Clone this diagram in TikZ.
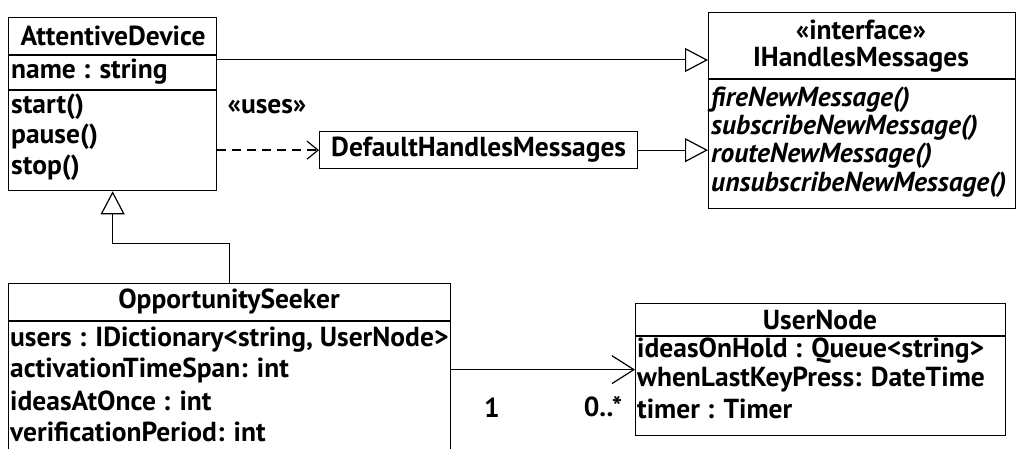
\documentclass[tikz,border=0pt]{standalone}
\usepackage{fontspec}
\setmainfont{PT Sans}
\usetikzlibrary{arrows.meta}
\begin{document}
\begin{tikzpicture}[x=1pt,y=-1pt,
  box/.style={draw, line width=1.3pt, anchor=north west, inner sep=0pt},
  sep/.style={line width=1.3pt},
  txt/.style={inner sep=0pt, font=\fontsize{27.5}{30}\selectfont\bfseries},
  lbl/.style={txt, anchor=west},
  ttl/.style={txt, anchor=center},
  op/.style={lbl, font=\fontsize{27.5}{30}\selectfont\bfseries\itshape},
  conn/.style={line width=1pt},
  gen/.style={conn, -{Triangle[open, length=23pt, width=24pt, line width=1.2pt]}},
  dep/.style={conn, line width=1.6pt, dash pattern=on 9pt off 6pt, -{Straight Barb[length=11pt, width=18pt, line width=1.2pt]}},
  nav/.style={conn, -{Straight Barb[length=22pt, width=28pt, line width=1.2pt]}}
]
\useasboundingbox (0,0) rectangle (1018,449);
\clip (0,0) rectangle (1018,449);

% AttentiveDevice
\node[box, minimum width=208pt, minimum height=173pt] (ad) at (8,17) {};
\draw[sep] (ad.west |- 0,55) -- (ad.east |- 0,55);
\draw[sep] (ad.west |- 0,90) -- (ad.east |- 0,90);
\node[ttl] (adname) at (113,36) {AttentiveDevice};
\node[lbl] (adattr) at (11,72) {name : string};
\node[lbl] (adstart) at (11,107) {start()};
\node[lbl] (adpause) at (11,137) {pause()};
\node[lbl] (adstop) at (11,168) {stop()};

% IHandlesMessages
\node[box, minimum width=307pt, minimum height=196pt] (ihm) at (708,12) {};
\draw[sep] (ihm.west |- 0,79) -- (ihm.east |- 0,79);
\node[ttl] (ihmstereo) at (861,30) {«interface»};
\node[ttl] (ihmname) at (861,60) {IHandlesMessages};
\node[op] (ihmfire) at (711,100) {fireNewMessage()};
\node[op] (ihmsub) at (711,128) {subscribeNewMessage()};
\node[op] (ihmroute) at (711,156) {routeNewMessage()};
\node[op] (ihmunsub) at (711,185) {unsubscribeNewMessage()};

% DefaultHandlesMessages
\node[box, minimum width=318pt, minimum height=37pt, txt] (dhm) at (319,131) {DefaultHandlesMessages};

% OpportunitySeeker
\node[box, minimum width=442pt, minimum height=200pt] (os) at (8,283) {};
\draw[sep] (os.west |- 0,321) -- (os.east |- 0,321);
\node[ttl] (osname) at (229,302) {OpportunitySeeker};
\node[lbl] (osusers) at (10,340) {users : IDictionary<string, UserNode>};
\node[lbl] (osspan) at (10,370) {activationTimeSpan: int};
\node[lbl] (osonce) at (10,401) {ideasAtOnce : int};
\node[lbl] (osperiod) at (10,432) {verificationPeriod: int};

% UserNode
\node[box, minimum width=370pt, minimum height=132pt] (un) at (635,303) {};
\draw[sep] (un.west |- 0,336) -- (un.east |- 0,336);
\node[ttl] (unname) at (820,320) {UserNode};
\node[lbl] (unhold) at (637,351) {ideasOnHold : Queue<string>};
\node[lbl] (unkey) at (637,380) {whenLastKeyPress: DateTime};
\node[lbl] (untimer) at (637,409) {timer : Timer};

% relations
\draw[gen] (ad.east |- ihmname) -- (ihm.west |- ihmname);
\draw[dep] (ad.east |- dhm) -- (dhm.west);
\node[ttl] (uses) at (267,107) {«uses»};
\draw[gen] (dhm.east) -- (ihm.west |- dhm);
\draw[gen] (os.north) -- ++(0,-39) -| (ad.south);
\draw[nav] (os.east |- un.west) -- (un.west);
\node[ttl] (mult1) at (492,408) {1};
\node[ttl] (mult2) at (603,407) {0..*};
\end{tikzpicture}
\end{document}
